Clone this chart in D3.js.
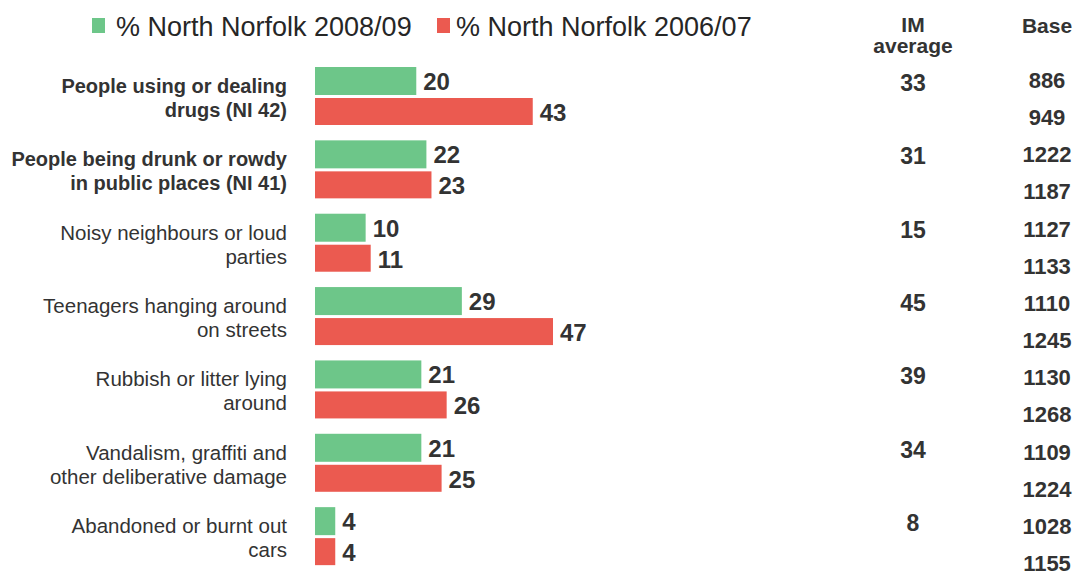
<!DOCTYPE html>
<html>
<head>
<meta charset="utf-8">
<script src="https://cdn.jsdelivr.net/npm/d3@7"></script>
<style>
  html, body { margin: 0; padding: 0; background: #fff; }
  svg { display: block; font-family: Arial, "Liberation Sans", sans-serif; }
</style>
</head>
<body>
<svg id="chart" width="1077" height="576"></svg>
<script>
// Survey categories (two-line labels)
const categories = [
  ["People using or dealing", "drugs (NI 42)"],
  ["People being drunk or rowdy", "in public places (NI 41)"],
  ["Noisy neighbours or loud", "parties"],
  ["Teenagers hanging around", "on streets"],
  ["Rubbish or litter lying", "around"],
  ["Vandalism, graffiti and", "other deliberative damage"],
  ["Abandoned or burnt out", "cars"]
];
const boldCategory = [true, true, false, false, false, false, false];

const seriesNames = ["% North Norfolk 2008/09", "% North Norfolk 2006/07"];
const values2008 = [20, 22, 10, 29, 21, 21, 4];
const values2006 = [43, 23, 11, 47, 26, 25, 4];
const imAverage = [33, 31, 15, 45, 39, 34, 8];
const base2008 = [886, 1222, 1127, 1110, 1130, 1109, 1028];
const base2006 = [949, 1187, 1133, 1245, 1268, 1224, 1155];

const colors = ["#6DC689", "#EB5A50"];
const textColor = "#333333";

const svg = d3.select("#chart");

// Scales
const x = d3.scaleLinear().domain([0, 47]).range([315, 553]);
const y = d3.scaleBand()
  .domain(d3.range(categories.length))
  .range([67, 580.5]);
const barH = 28;
const barGap = 3;

// Legend
const legend = svg.append("g");
const legendItems = [{x: 92, tx: 116}, {x: 437, tx: 456}];
seriesNames.forEach((name, i) => {
  legend.append("rect")
    .attr("x", legendItems[i].x).attr("y", 18)
    .attr("width", 13).attr("height", 15)
    .attr("fill", colors[i]);
  legend.append("text")
    .attr("x", legendItems[i].tx).attr("y", 36)
    .attr("font-size", 27).attr("fill", "#262626")
    .text(name);
});

// Column headers
const header = (txt, hx, hy) => svg.append("text")
  .attr("x", hx).attr("y", hy).attr("text-anchor", "middle")
  .attr("font-size", 21).attr("font-weight", "bold").attr("fill", textColor)
  .text(txt);
header("IM", 913, 32);
header("average", 913, 53);
header("Base", 1047, 33);

const groups = svg.append("g").selectAll("g")
  .data(categories.map((c, i) => ({c, i})))
  .join("g")
  .attr("transform", d => `translate(0,${y(d.i)})`);

// Category labels
groups.append("text")
  .attr("text-anchor", "end")
  .attr("font-size", d => boldCategory[d.i] ? 20 : 20.5)
  .attr("font-weight", d => boldCategory[d.i] ? "bold" : "normal")
  .attr("fill", textColor)
  .selectAll("tspan")
  .data(d => d.c)
  .join("tspan")
  .attr("x", 287)
  .attr("y", (d, j) => 26 + j * 24)
  .text(d => d);

// Bars with value labels
const seriesVals = [values2008, values2006];
seriesVals.forEach((vals, s) => {
  groups.append("rect")
    .attr("x", x(0))
    .attr("y", s * (barH + barGap))
    .attr("width", d => x(vals[d.i]) - x(0))
    .attr("height", s === 0 ? barH : barH - 1)
    .attr("fill", colors[s]);
  groups.append("text")
    .attr("x", d => x(vals[d.i]) + 7)
    .attr("y", s * (barH + barGap) + 23)
    .attr("font-size", 24)
    .attr("font-weight", "bold")
    .attr("fill", textColor)
    .text(d => vals[d.i]);
});

// IM average column
groups.append("text")
  .attr("x", 913).attr("y", 24)
  .attr("text-anchor", "middle")
  .attr("font-size", 23).attr("font-weight", "bold").attr("fill", textColor)
  .text(d => imAverage[d.i]);

// Base column: evenly spaced rows, one per bar
const baseRows = [];
base2008.forEach((b, i) => { baseRows.push(b); baseRows.push(base2006[i]); });
const yBase = d3.scalePoint().domain(d3.range(baseRows.length)).range([88, 571]);
svg.append("g").selectAll("text")
  .data(baseRows)
  .join("text")
  .attr("x", 1047).attr("y", (d, i) => yBase(i))
  .attr("text-anchor", "middle")
  .attr("font-size", 22).attr("font-weight", "bold").attr("fill", textColor)
  .text(d => d);
</script>
</body>
</html>
